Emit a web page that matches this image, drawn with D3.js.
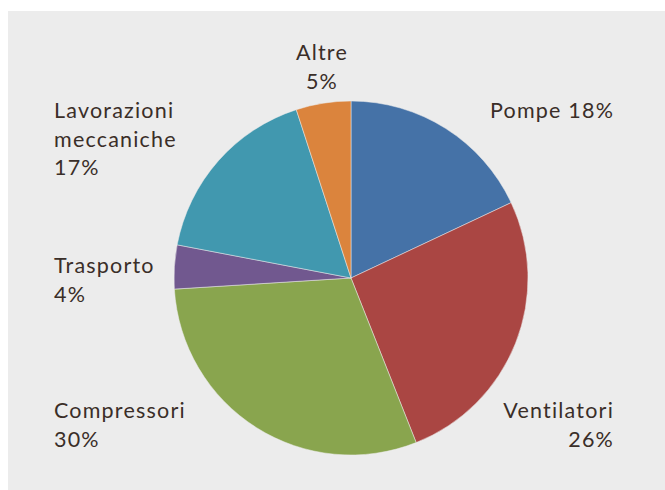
<!DOCTYPE html>
<html>
<head>
<meta charset="utf-8">
<script src="https://cdn.jsdelivr.net/npm/d3@7"></script>
<style>
  body { margin: 0; background: #ffffff; }
  svg { display: block; }
</style>
</head>
<body>
<script>
var width = 665;
var height = 490;

// data
var categories = ["Pompe", "Ventilatori", "Compressori", "Trasporto", "Lavorazioni meccaniche", "Altre"];
var values = [18, 26, 30, 4, 17, 5];
var colors = ["#4572a7", "#aa4643", "#89a54e", "#71588f", "#4198af", "#db843d"];

// label text lines for each slice
var labelLines = [
    ["Pompe 18%"],
    ["Ventilatori", "26%"],
    ["Compressori", "30%"],
    ["Trasporto", "4%"],
    ["Lavorazioni", "meccaniche", "17%"],
    ["Altre", "5%"]
];

// where each label sits (first baseline) and how it is aligned
var labelLayout = [
    { x: 490, y: 118, anchor: "start" },
    { x: 614, y: 418, anchor: "end" },
    { x: 54, y: 418, anchor: "start" },
    { x: 54, y: 273, anchor: "start" },
    { x: 54, y: 118, anchor: "start" },
    { x: 322, y: 60, anchor: "middle" }
];

var cx = 351;
var cy = 278;
var radius = 177;
var lineHeight = 28.5;

var svg = d3.select("body")
    .append("svg")
    .attr("width", width)
    .attr("height", height);

svg.append("rect")
    .attr("x", 8)
    .attr("y", 11)
    .attr("width", width - 8)
    .attr("height", height - 11)
    .attr("fill", "#ececec");

var pie = d3.pie()
    .sort(null)
    .value(function(d) { return d; });

var arc = d3.arc()
    .innerRadius(0)
    .outerRadius(radius);

var g = svg.append("g")
    .attr("transform", `translate(${cx}, ${cy})`);

g.selectAll("path")
    .data(pie(values))
    .join("path")
    .attr("d", arc)
    .attr("fill", function(d, i) { return colors[i]; })
    .attr("stroke", "#ececec")
    .attr("stroke-width", 0.5);

var labels = svg.selectAll("text.label")
    .data(categories)
    .join("text")
    .attr("class", "label")
    .attr("x", function(d, i) { return labelLayout[i].x; })
    .attr("y", function(d, i) { return labelLayout[i].y; })
    .attr("text-anchor", function(d, i) { return labelLayout[i].anchor; })
    .attr("fill", "#3a2e28")
    .attr("font-family", "Lato, sans-serif")
    .attr("font-size", "21.5px")
    .attr("letter-spacing", "1.2px");

labels.each(function(d, i) {
    var t = d3.select(this);
    labelLines[i].forEach(function(line, j) {
        t.append("tspan")
            .attr("x", labelLayout[i].x)
            .attr("dy", j === 0 ? 0 : lineHeight)
            .text(line);
    });
});
</script>
</body>
</html>
